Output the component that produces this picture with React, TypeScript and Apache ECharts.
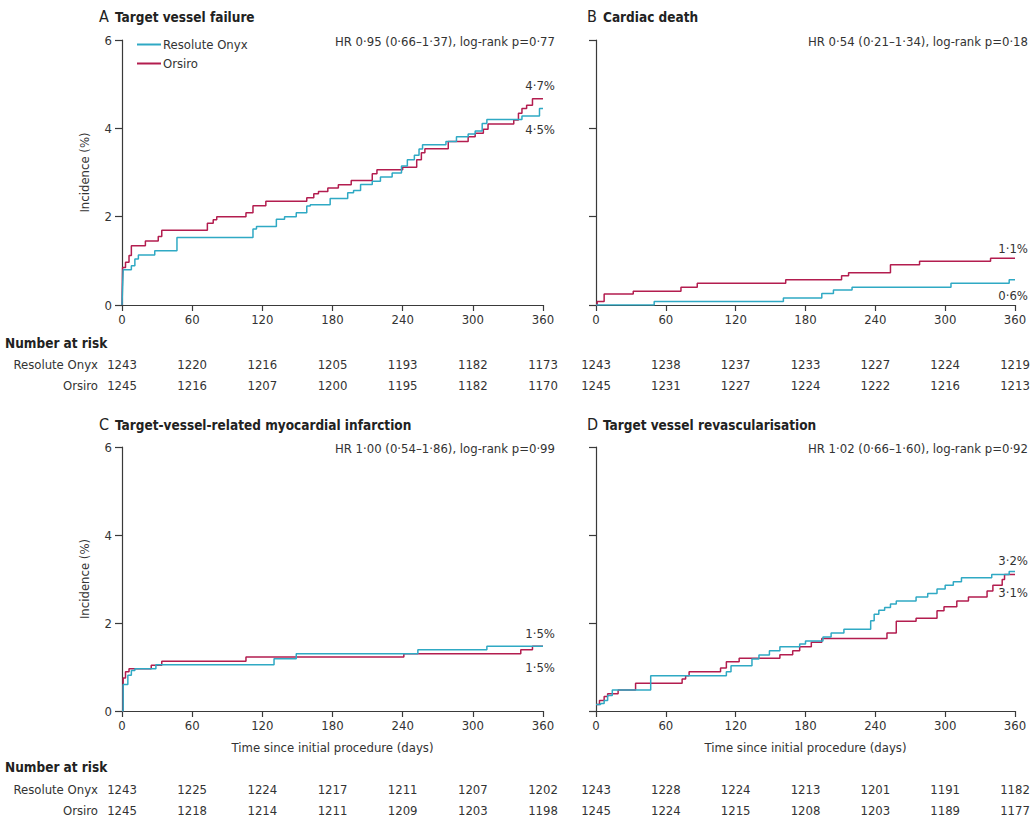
import React, { useEffect, useRef } from "react";
import * as echarts from "echarts";

const FONT = "'Liberation Sans Narrow', 'DejaVu Sans Condensed', 'Roboto Condensed', 'Liberation Sans', sans-serif";
const TEAL = "#2fa9c4";
const RED = "#b31d4f";
const TXT = "#333333";

const xTicks = [0, 60, 120, 180, 240, 300, 360];
const yTicks = [0, 2, 4, 6];

// Panel A: target vessel failure
const aOnyx: [number, number][] = [
  [0, 0], [0.5, 0.4], [1, 0.8], [8, 0.89], [11, 1.04], [14, 1.13], [28, 1.23], [47, 1.53],
  [112, 1.72], [115, 1.78], [132, 1.94], [139, 2.0], [149, 2.09], [158, 2.24], [161, 2.27],
  [178, 2.41], [193, 2.54], [198, 2.59], [204, 2.73], [214, 2.8], [221, 2.9], [231, 2.99],
  [239, 3.15], [244, 3.29], [250, 3.39], [254, 3.53], [257, 3.63], [277, 3.7], [286, 3.81],
  [296, 3.87], [302, 3.94], [308, 4.11], [312, 4.2], [342, 4.28], [357, 4.45], [360, 4.45],
];
const aOrsiro: [number, number][] = [
  [0, 0], [0.5, 0.85], [3, 0.97], [6, 1.12], [8, 1.34], [20, 1.45], [31, 1.55], [34, 1.69],
  [73, 1.85], [78, 1.93], [81, 2.0], [106, 2.09], [112, 2.25], [123, 2.35], [158, 2.43],
  [164, 2.52], [168, 2.57], [176, 2.65], [185, 2.72], [196, 2.82], [214, 2.97], [218, 3.06],
  [240, 3.12], [252, 3.29], [256, 3.45], [259, 3.54], [279, 3.7], [296, 3.81], [302, 3.89],
  [309, 3.98], [313, 4.1], [335, 4.19], [339, 4.34], [342, 4.45], [346, 4.52], [351, 4.67],
  [360, 4.67],
];

// Panel B: cardiac death
const bOnyx: [number, number][] = [
  [0, 0], [50, 0.08], [161, 0.16], [194, 0.26], [204, 0.34], [220, 0.4], [305, 0.49],
  [355, 0.57], [360, 0.57],
];
const bOrsiro: [number, number][] = [
  [0, 0], [1, 0.08], [7, 0.25], [32, 0.31], [73, 0.4], [87, 0.49], [163, 0.57], [211, 0.66],
  [217, 0.73], [253, 0.91], [278, 0.99], [339, 1.06], [360, 1.06],
];

// Panel C: target-vessel-related myocardial infarction
const cOnyx: [number, number][] = [
  [0, 0], [1, 0.6], [5, 0.81], [8, 0.92], [11, 0.96], [29, 1.05], [130, 1.19], [149, 1.3],
  [253, 1.39], [312, 1.47], [360, 1.47],
];
const cOrsiro: [number, number][] = [
  [0, 0], [1, 0.75], [3, 0.89], [6, 0.96], [25, 1.04], [34, 1.13], [106, 1.23], [241, 1.3],
  [341, 1.39], [351, 1.47], [360, 1.47],
];

// Panel D: target vessel revascularisation
const dOnyx: [number, number][] = [
  [0, 0.15], [4, 0.17], [7, 0.24], [10, 0.35], [14, 0.48], [47, 0.8], [112, 0.89], [116, 1.03],
  [134, 1.18], [140, 1.27], [149, 1.37], [158, 1.46], [175, 1.52], [180, 1.59], [195, 1.68],
  [202, 1.77], [213, 1.86], [236, 2.05], [239, 2.2], [243, 2.29], [248, 2.35], [253, 2.43],
  [258, 2.5], [275, 2.59], [285, 2.67], [293, 2.77], [300, 2.86], [307, 2.94], [314, 3.03],
  [340, 3.1], [355, 3.17], [360, 3.17],
];
const dOrsiro: [number, number][] = [
  [0, 0.15], [3, 0.24], [7, 0.33], [10, 0.39], [19, 0.48], [34, 0.63], [74, 0.73], [77, 0.8],
  [80, 0.89], [107, 0.98], [112, 1.12], [123, 1.2], [158, 1.28], [169, 1.37], [175, 1.46],
  [185, 1.56], [194, 1.65], [250, 1.77], [258, 2.04], [275, 2.11], [293, 2.28], [299, 2.37],
  [310, 2.5], [320, 2.59], [336, 2.73], [341, 2.86], [349, 2.99], [351, 3.1], [360, 3.1],
];

const riskOnyxA = [1243, 1220, 1216, 1205, 1193, 1182, 1173];
const riskOrsiroA = [1245, 1216, 1207, 1200, 1195, 1182, 1170];
const riskOnyxB = [1243, 1238, 1237, 1233, 1227, 1224, 1219];
const riskOrsiroB = [1245, 1231, 1227, 1224, 1222, 1216, 1213];
const riskOnyxC = [1243, 1225, 1224, 1217, 1211, 1207, 1202];
const riskOrsiroC = [1245, 1218, 1214, 1211, 1209, 1203, 1198];
const riskOnyxD = [1243, 1228, 1224, 1213, 1201, 1191, 1182];
const riskOrsiroD = [1245, 1224, 1215, 1208, 1203, 1189, 1177];

const panelLetters = ["A", "B", "C", "D"];
const panelTitles = [
  "Target vessel failure",
  "Cardiac death",
  "Target-vessel-related myocardial infarction",
  "Target vessel revascularisation",
];
const hrTexts = [
  "HR 0·95 (0·66–1·37), log-rank p=0·77",
  "HR 0·54 (0·21–1·34), log-rank p=0·18",
  "HR 1·00 (0·54–1·86), log-rank p=0·99",
  "HR 1·02 (0·66–1·60), log-rank p=0·92",
];
const endLabels = [
  ["4·7%", "4·5%"],
  ["1·1%", "0·6%"],
  ["1·5%", "1·5%"],
  ["3·2%", "3·1%"],
];
const seriesNames = ["Resolute Onyx", "Orsiro"];

const GRIDS = [
  { left: 122, top: 40, width: 421, height: 265 },
  { left: 596, top: 40, width: 419, height: 265 },
  { left: 122, top: 447, width: 421, height: 264 },
  { left: 596, top: 447, width: 419, height: 264 },
];

function txt(text: string, x: number, y: number, align: string, size = 13, weight = "normal", color = TXT) {
  return {
    type: "text",
    x,
    y,
    silent: true,
    style: {
      text,
      x: 0,
      y: 0,
      fill: color,
      fontSize: size,
      fontWeight: weight,
      fontFamily: FONT,
      align,
      verticalAlign: "middle",
      textAlign: align,
      textVerticalAlign: "middle",
    },
  };
}

export default function App() {
  const ref = useRef<HTMLDivElement>(null);
  useEffect(() => {
    if (!ref.current) return;
    const chart = echarts.init(ref.current, undefined, { renderer: "svg" });
    const axisLine = { show: true, lineStyle: { color: "#3a3a3a", width: 1.2 } };
    const curves = [
      [aOnyx, aOrsiro],
      [bOnyx, bOrsiro],
      [cOnyx, cOrsiro],
      [dOnyx, dOrsiro],
    ];
    const risks = [
      [riskOnyxA, riskOrsiroA],
      [riskOnyxB, riskOrsiroB],
      [riskOnyxC, riskOrsiroC],
      [riskOnyxD, riskOrsiroD],
    ];

    const xAxis = GRIDS.map((_, i) => ({
      gridIndex: i,
      type: "value",
      min: 0,
      max: 360,
      interval: 60,
      axisLine,
      axisTick: { show: true, length: 6, lineStyle: { color: "#3a3a3a", width: 1.2 } },
      axisLabel: { margin: 8, color: TXT, fontSize: 13, fontFamily: FONT },
      splitLine: { show: false },
      name: i >= 2 ? "Time since initial procedure (days)" : "",
      nameLocation: "middle",
      nameGap: 30,
      nameTextStyle: { color: TXT, fontSize: 13, fontFamily: FONT, verticalAlign: "top" },
    }));
    const yAxis = GRIDS.map((_, i) => ({
      gridIndex: i,
      type: "value",
      min: 0,
      max: 6,
      interval: 2,
      axisLine,
      axisTick: { show: true, length: 7, lineStyle: { color: "#3a3a3a", width: 1.2 } },
      axisLabel: { show: i % 2 === 0, margin: 10, color: TXT, fontSize: 13, fontFamily: FONT },
      splitLine: { show: false },
      name: i % 2 === 0 ? "Incidence (%)" : "",
      nameLocation: "middle",
      nameGap: 31,
      nameRotate: 90,
      nameTextStyle: { color: TXT, fontSize: 13, fontFamily: FONT },
    }));

    const series: any[] = [];
    curves.forEach((pair, i) => {
      pair.forEach((data, k) => {
        series.push({
          name: seriesNames[k],
          type: "line",
          step: "end",
          xAxisIndex: i,
          yAxisIndex: i,
          data,
          showSymbol: false,
          symbol: "none",
          lineStyle: { width: 1.5, color: k === 0 ? TEAL : RED },
          itemStyle: { color: k === 0 ? TEAL : RED },
          z: k === 0 ? 3 : 2,
          silent: true,
        });
      });
    });

    const graphic: any[] = [];
    const letterX = [99, 587, 99, 587];
    const titleX = [115, 603, 115, 603];
    const titleY = [16, 16, 424, 424];
    const hrRight = [555, 1028, 555, 1028];
    const hrY = [41, 41, 448, 448];
    const endY = [
      [85, 129],
      [248, 295],
      [633, 667],
      [560, 592],
    ];
    GRIDS.forEach((g, i) => {
      graphic.push(txt(panelLetters[i], letterX[i], titleY[i], "left", 16, "normal", "#222"));
      graphic.push(txt(panelTitles[i], titleX[i], titleY[i] + 1, "left", 13.5, "bold", "#222"));
      graphic.push(txt(hrTexts[i], hrRight[i], hrY[i], "right", 13));
      graphic.push(txt(endLabels[i][0], hrRight[i], endY[i][0], "right", 13));
      graphic.push(txt(endLabels[i][1], hrRight[i], endY[i][1], "right", 13));
    });
    // Number at risk tables
    const tableRows = [
      [343, 364, 385],
      [767, 789, 810],
    ];
    [0, 1].forEach((r) => {
      const [yh, y1, y2] = tableRows[r];
      graphic.push(txt("Number at risk", 5, yh, "left", 13.5, "bold", "#222"));
      graphic.push(txt("Resolute Onyx", 98, y1, "right", 13));
      graphic.push(txt("Orsiro", 98, y2, "right", 13));
      [0, 1].forEach((c) => {
        const i = r * 2 + c;
        const g = GRIDS[i];
        xTicks.forEach((t, j) => {
          const x = g.left + (t / 360) * g.width;
          graphic.push(txt(String(risks[i][0][j]), x, y1, "center", 13));
          graphic.push(txt(String(risks[i][1][j]), x, y2, "center", 13));
        });
      });
    });

    chart.setOption({
      animation: false,
      backgroundColor: "#ffffff",
      textStyle: { fontFamily: FONT },
      grid: GRIDS.map((g) => ({ ...g, containLabel: false })),
      xAxis,
      yAxis,
      legend: {
        data: seriesNames,
        orient: "vertical",
        left: 132,
        top: 33,
        itemWidth: 24,
        itemHeight: 2,
        itemGap: 6,
        icon: "rect",
        selectedMode: false,
        textStyle: { color: TXT, fontSize: 13, fontFamily: FONT, padding: [0, 0, 0, -3] },
      },
      series,
      graphic,
    });
    return () => chart.dispose();
  }, []);
  return (
    <div
      ref={ref}
      style={{ position: "fixed", left: 0, top: 0, width: 1035, height: 817, background: "#fff" }}
    />
  );
}
